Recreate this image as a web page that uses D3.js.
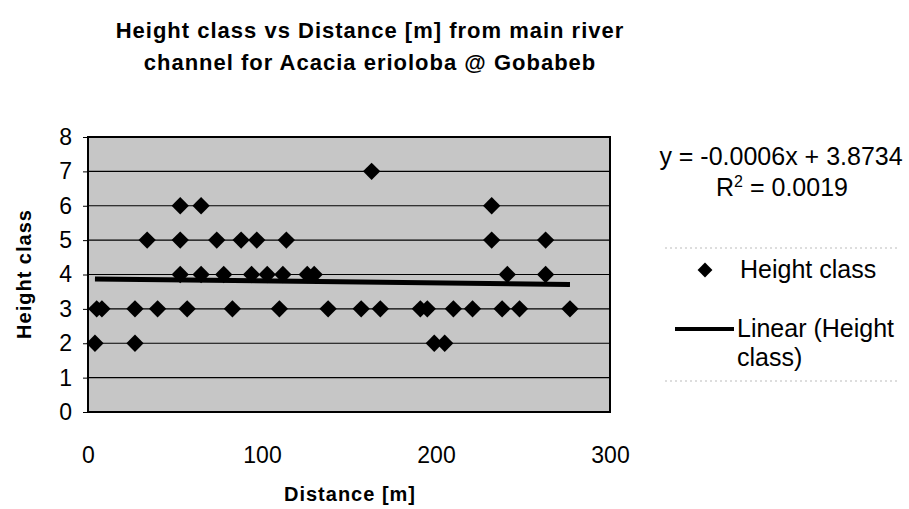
<!DOCTYPE html>
<html>
<head>
<meta charset="utf-8">
<script src="https://cdn.jsdelivr.net/npm/d3@7"></script>
<style>
  body { margin: 0; background: #fff; }
  text { font-family: "Liberation Sans", Arial, sans-serif; fill: #000; }
</style>
</head>
<body>
<div id="chart"></div>
<script>
// distances [m] for each height class
const class2 = [4, 27, 199, 205];
const class3 = [5, 8, 27, 40, 57, 83, 110, 138, 157, 168, 191, 195, 210, 221, 238, 248, 277];
const class4 = [53, 65, 78, 94, 103, 112, 126, 130, 241, 263];
const class5 = [34, 53, 74, 88, 97, 114, 232, 263];
const class6 = [53, 65, 232];
const class7 = [163];

const xTicks = [0, 100, 200, 300];
const yTicks = [0, 1, 2, 3, 4, 5, 6, 7, 8];
const slope = -0.0006, intercept = 3.8734;
const titleLines = ["Height class vs Distance [m] from main river", "channel for Acacia erioloba @ Gobabeb"];

const points = [];
[[2, class2], [3, class3], [4, class4], [5, class5], [6, class6], [7, class7]]
    .forEach(([h, xs]) => xs.forEach(d => points.push({ dist: d, height: h })));

const W = 909, H = 509;
const plot = { left: 88, right: 610, top: 137, bottom: 412 };

const svg = d3.select("#chart").append("svg")
    .attr("width", W)
    .attr("height", H);

svg.append("rect").attr("width", W).attr("height", H).attr("fill", "#fff");

const x = d3.scaleLinear().domain([0, 300]).range([plot.left, plot.right]);
const y = d3.scaleLinear().domain([0, 8]).range([plot.bottom, plot.top]);

// plot area background (the original is a grey stipple)
svg.append("rect")
    .attr("x", plot.left).attr("y", plot.top)
    .attr("width", plot.right - plot.left)
    .attr("height", plot.bottom - plot.top)
    .attr("fill", "#c6c6c6");

// gridlines
svg.append("g")
    .selectAll("line")
    .data(yTicks.filter(t => t > 0 && t < 8))
    .join("line")
    .attr("x1", plot.left).attr("x2", plot.right)
    .attr("y1", d => y(d)).attr("y2", d => y(d))
    .attr("stroke", "#000").attr("stroke-width", 1.2);

// axes
const yAxis = svg.append("g")
    .attr("transform", `translate(${plot.left},0)`)
    .call(d3.axisLeft(y).tickValues(yTicks).tickSize(5).tickPadding(11));
yAxis.select(".domain").remove();
yAxis.selectAll("text").attr("font-size", "23px").attr("font-family", "Liberation Sans, Arial, sans-serif");

const xAxis = svg.append("g")
    .attr("transform", `translate(0,${plot.bottom})`)
    .call(d3.axisBottom(x).tickValues(xTicks).tickSize(0).tickPadding(35));
xAxis.select(".domain").remove();
xAxis.selectAll("text").attr("font-size", "23px").attr("font-family", "Liberation Sans, Arial, sans-serif");

// frame
svg.append("rect")
    .attr("x", plot.left).attr("y", plot.top)
    .attr("width", plot.right - plot.left)
    .attr("height", plot.bottom - plot.top)
    .attr("fill", "none").attr("stroke", "#000").attr("stroke-width", 2);

// trend line
const xExt = d3.extent(points, d => d.dist);
svg.append("path")
    .datum(xExt)
    .attr("d", d3.line().x(d => x(d)).y(d => y(slope * d + intercept)))
    .attr("stroke", "#000").attr("stroke-width", 5).attr("fill", "none");

// points
const diamond = d3.symbol().type(d3.symbolSquare).size(150);
svg.append("g")
    .selectAll("path")
    .data(points)
    .join("path")
    .attr("d", diamond)
    .attr("transform", d => `translate(${x(d.dist)},${y(d.height)}) rotate(45)`)
    .attr("fill", "#000");

// title
svg.append("text")
    .attr("text-anchor", "middle")
    .attr("font-size", "22px").attr("font-weight", "bold")
    .attr("letter-spacing", "1px")
    .selectAll("tspan")
    .data(titleLines)
    .join("tspan")
    .attr("x", 370)
    .attr("y", (d, i) => 38 + i * 32)
    .text(d => d);

// axis titles
svg.append("text")
    .attr("x", 350).attr("y", 501)
    .attr("text-anchor", "middle")
    .attr("font-size", "20px").attr("font-weight", "bold")
    .attr("letter-spacing", "1px")
    .text("Distance [m]");

svg.append("text")
    .attr("transform", "rotate(-90)")
    .attr("x", -274).attr("y", 31)
    .attr("text-anchor", "middle")
    .attr("font-size", "20px").attr("font-weight", "bold")
    .attr("letter-spacing", "1px")
    .text("Height class");

// equation
svg.append("text")
    .attr("x", 781).attr("y", 165)
    .attr("text-anchor", "middle")
    .attr("font-size", "25px")
    .text(`y = ${slope.toFixed(4)}x + ${intercept}`);

const r2 = svg.append("text")
    .attr("x", 782).attr("y", 196)
    .attr("text-anchor", "middle")
    .attr("font-size", "25px");
r2.append("tspan").text("R");
r2.append("tspan").attr("dy", -9).attr("font-size", "16px").text("2");
r2.append("tspan").attr("dy", 9).text(" = 0.0019");

// legend
const legend = svg.append("g");
legend.append("line")
    .attr("x1", 665).attr("x2", 898).attr("y1", 248).attr("y2", 248)
    .attr("stroke", "#bbb").attr("stroke-dasharray", "2,3");
legend.append("line")
    .attr("x1", 665).attr("x2", 898).attr("y1", 381).attr("y2", 381)
    .attr("stroke", "#bbb").attr("stroke-dasharray", "2,3");

legend.append("path")
    .attr("d", d3.symbol().type(d3.symbolSquare).size(110))
    .attr("transform", "translate(705,270) rotate(45)")
    .attr("fill", "#000");
legend.append("text")
    .attr("x", 740).attr("y", 278)
    .attr("font-size", "25px")
    .text("Height class");

legend.append("line")
    .attr("x1", 675).attr("x2", 734).attr("y1", 329).attr("y2", 329)
    .attr("stroke", "#000").attr("stroke-width", 4);
legend.append("text")
    .attr("font-size", "25px")
    .selectAll("tspan")
    .data(["Linear (Height", "class)"])
    .join("tspan")
    .attr("x", 737)
    .attr("y", (d, i) => 337 + i * 29)
    .text(d => d);
</script>
</body>
</html>
